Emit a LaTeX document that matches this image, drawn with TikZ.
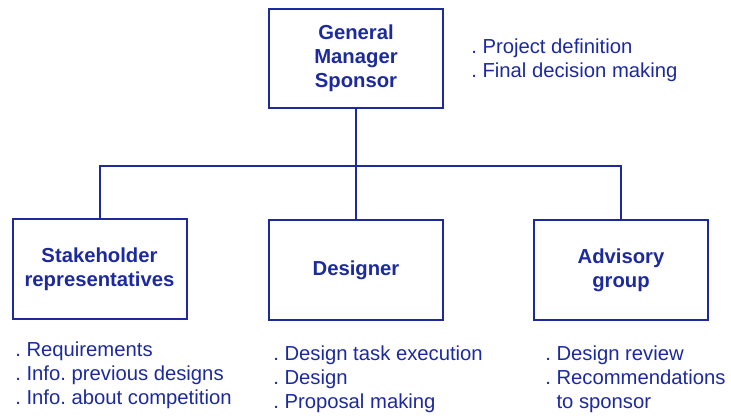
\documentclass[tikz,border=0pt]{standalone}
\usepackage{fontspec}
\setmainfont{Liberation Sans}
\frenchspacing
\definecolor{blu}{RGB}{28,42,158}
\tikzset{
  ruolo/.style={draw=blu, line width=1.5pt, text=blu, font=\fontsize{15.2}{18}\selectfont\bfseries,
    align=center, minimum width=130.5pt, minimum height=74.5pt, inner sep=0pt},
  compiti/.style={text=blu, font=\fontsize{15.2}{18}\selectfont, align=left, inner sep=0pt, anchor=base west},
  linea/.style={draw=blu, line width=1.5pt}
}
\begin{document}
\begin{tikzpicture}[x=0.75pt,y=-0.75pt]
        \useasboundingbox (0,0) rectangle (731,415);
        % livello 1
        \node[ruolo] (gm) at (356,58.7) {General\\Manager\\Sponsor};
        \node[compiti] (gmnote) at (471,77) {. Project definition\\. Final decision making};
        % livello 2
        \node[ruolo] (stake) at (99.5,269) {Stakeholder\\representatives};
        \node[ruolo] (designer) at (356,270) {Designer};
        \node[ruolo] (advisory) at (621,270) {Advisory\\group};
        \coordinate (bus) at (356,166);
        \draw[linea] (gm) -- (designer);
        \draw[linea] (stake.north) |- (bus) -| (advisory.north);
        % compiti (la base e' l'ultima riga)
        \node[compiti] (stakenote) at (15,404) {. Requirements\\. Info. previous designs\\. Info. about competition};
        \node[compiti] (designernote) at (273,408) {. Design task execution\\. Design\\. Proposal making};
        \node[compiti] (advisorynote) at (545,408) {. Design review\\. Recommendations\\\phantom{. }to sponsor};
    \end{tikzpicture}
\end{document}
